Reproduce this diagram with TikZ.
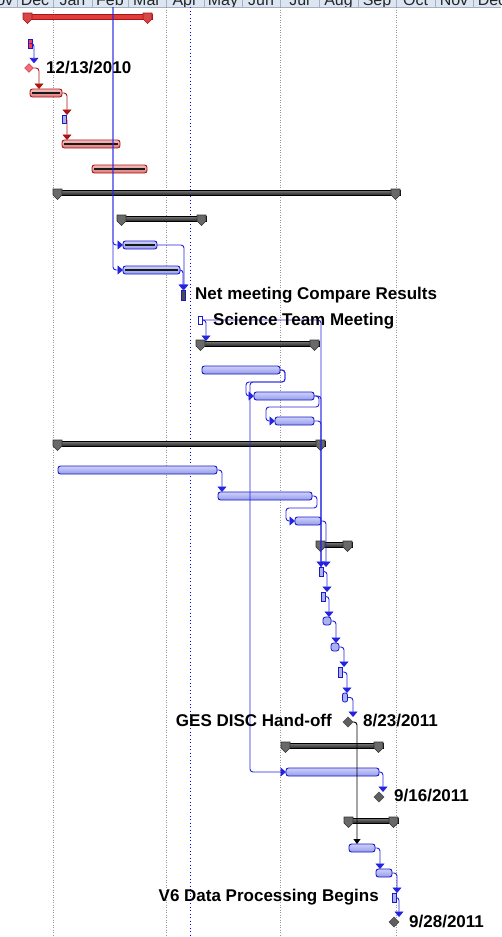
\documentclass[tikz,border=0pt]{standalone}
\usepackage{fontspec}
\setmainfont{Liberation Sans}
\usetikzlibrary{arrows.meta,shapes.geometric}
\definecolor{hdr}{RGB}{220,230,242}
\definecolor{hsep}{RGB}{165,175,190}
\definecolor{gridc}{RGB}{150,150,150}
\definecolor{cblue}{RGB}{35,35,225}
\definecolor{bblue}{RGB}{25,25,200}
\definecolor{bfill}{RGB}{172,178,240}
\definecolor{btop}{RGB}{205,208,250}
\definecolor{bbot}{RGB}{150,156,232}
\definecolor{rline}{RGB}{170,20,20}
\definecolor{rfill}{RGB}{235,150,150}
\definecolor{rtop}{RGB}{245,190,190}
\definecolor{rbot}{RGB}{220,120,120}
\definecolor{capfill}{RGB}{105,105,105}
\definecolor{redsum}{RGB}{225,60,60}
\definecolor{redcap}{RGB}{215,70,70}
\definecolor{dgray}{RGB}{95,95,95}
\tikzset{
 bconn/.style={draw=cblue, line width=0.9pt, rounded corners=3pt},
 rconn/.style={draw=rline, line width=0.9pt, rounded corners=3pt},
 kconn/.style={draw=black, line width=0.9pt, rounded corners=3pt},
 arr/.style={-{Triangle[width=9pt,length=5.5pt]}},
 tbar/.style={draw=bblue, top color=btop, bottom color=bbot, rounded corners=2.5pt, line width=0.9pt, inner sep=0pt, minimum height=8pt, anchor=west, outer sep=0pt},
 rbar/.style={tbar, draw=rline, top color=rtop, bottom color=rbot},
 smalltask/.style={draw=bblue, fill=bfill, line width=0.8pt, inner sep=0pt, minimum width=4pt, minimum height=9pt, outer sep=0pt},
 prog/.style={line width=2.6pt, black!90},
 mile/.style={diamond, draw=black!70, fill=dgray, inner sep=0pt, minimum width=10pt, minimum height=10pt, outer sep=0pt},
 lbl/.style={font=\bfseries\fontsize{17}{20}\selectfont, inner sep=0pt, text=black},
 mon/.style={font=\fontsize{16}{18}\selectfont, inner sep=0pt, anchor=base, text=black!85},
 gridline/.style={draw=gridc, line width=0.8pt, dash pattern=on 1pt off 1.5pt},
 sumk/.style={draw=black, top color=black!50, bottom color=black!85, line width=0.6pt},
 capk/.style={draw=black!80, fill=capfill, line width=0.6pt},
 sumr/.style={draw=rline, fill=redsum, line width=0.6pt},
 capr/.style={draw=rline, fill=redcap, line width=0.6pt},
}
% name, x1, x2, ytop, k/r
\newcommand\sumbar[5]{%
 \node[sum#5, inner sep=0pt, outer sep=0pt, minimum height=5pt, minimum width={#3-#2}, anchor=north west] (#1) at (#2,#4) {};
 \filldraw[cap#5] (#2,#4-1) -- (#2+9,#4-1) -- (#2+9,#4+5) -- (#2+4.5,#4+9.5) -- (#2,#4+5) -- cycle;
 \filldraw[cap#5] (#3-9,#4-1) -- (#3,#4-1) -- (#3,#4+5) -- (#3-4.5,#4+9.5) -- (#3-9,#4+5) -- cycle;
}
\begin{document}
\begin{tikzpicture}[x=1pt,y=-1pt]
\useasboundingbox (0,0) rectangle (501,937);
\fill[white] (0,0) rectangle (501,937);
% header
\begin{scope}
\clip (0,0) rectangle (501,7);
\fill[hdr] (0,0) rectangle (501,7);
\foreach \m/\x [count=\i] in {Nov/-1, Dec/35, Jan/72.5, Feb/110, Mar/147, Apr/185, May/223, Jun/261, Jul/299.5, Aug/338.5, Sep/377, Oct/415.5, Nov/454, Dec/492}
  \node[mon] (h\i) at (\x,5) {\m};
\end{scope}
\foreach \x in {17,53,92,128,166,204,242,280,319,358,396,435,473}
  \draw[hsep, line width=0.8pt] (\x,0) -- (\x,7);
\draw[hsep, line width=0.6pt] (0,7) -- (501,7);
% grid
\foreach \x in {53,166,280,396}
  \draw[gridline] (\x,7) -- (\x,937);
\draw[draw=blue, line width=0.9pt, dash pattern=on 1.2pt off 2.3pt] (190,7) -- (190,937);
\coordinate (src1) at (113,7);

% summaries
\sumbar{r1}{23}{152}{14}{r}
\sumbar{s8}{53}{400}{190}{k}
\sumbar{s9}{117}{206}{216}{k}
\sumbar{s14}{196}{319}{341}{k}
\sumbar{s18}{53}{325}{441}{k}
\sumbar{s22}{316}{352}{542}{k}
\sumbar{s30}{281}{383}{743}{k}
\sumbar{s33}{344}{398}{818}{k}

% tasks
\node[smalltask, fill=red!75] (t2) at (30,43.5) {};
\node[diamond, draw={rgb,255:red,200;green,40;blue,60}, fill={rgb,255:red,240;green,110;blue,120}, inner sep=0pt, minimum width=9pt, minimum height=9pt] (d3) at (29,68) {};
\node[rbar, minimum width=32pt] (b4) at (30,93) {};
\node[smalltask, minimum height=8pt] (t5) at (64,119) {};
\node[rbar, minimum width=58pt] (b6) at (62,144) {};
\node[rbar, minimum width=55pt] (b7) at (92,169) {};
\node[tbar, minimum width=34pt] (b10) at (123,245) {};
\node[tbar, minimum width=57pt] (b11) at (123,270) {};
\node[smalltask, fill=black!70, minimum height=10pt] (t12) at (183,295) {};
\node[smalltask, fill=white, minimum height=8pt] (t13) at (200,320) {};
\node[tbar, minimum width=78pt] (b15) at (202,370) {};
\node[tbar, minimum width=60pt] (b16) at (254,396) {};
\node[tbar, minimum width=39pt] (b17) at (275,421) {};
\node[tbar, minimum width=159pt] (b19) at (58,470) {};
\node[tbar, minimum width=94pt] (b20) at (218,496) {};
\node[tbar, minimum width=26pt] (b21) at (295,521) {};
\node[smalltask] (t23) at (321,571.5) {};
\node[smalltask] (t24) at (323,596.5) {};
\node[smalltask, minimum width=8pt, minimum height=8pt, rounded corners=2.5pt] (t25) at (327,621) {};
\node[smalltask, minimum width=8pt, minimum height=8pt, rounded corners=2.5pt] (t26) at (335,647) {};
\node[smalltask, minimum height=10pt] (t27) at (340,672) {};
\node[smalltask, minimum width=5pt, rounded corners=2pt] (t28) at (345,697.5) {};
\node[mile] (d29) at (348,722) {};
\node[tbar, minimum width=93pt] (b31) at (286,772) {};
\node[mile] (d32) at (379,797) {};
\node[tbar, minimum width=26pt] (b34) at (349,848) {};
\node[tbar, minimum width=16pt] (b35) at (376,873) {};
\node[smalltask] (t36) at (394,897.5) {};
\node[mile] (d37) at (394,922) {};

% progress lines
\foreach \b in {b4,b6,b7,b10,b11}
  \draw[prog] ([xshift=2pt]\b.west) -- ([xshift=-2pt]\b.east);

% connectors
\draw[bconn,arr] (t2.east) -| ([xshift=5pt]d3.north);
\draw[rconn,arr] (d3.east) -| ([xshift=9pt]b4.north west);
\draw[rconn,arr] (b4.east) -| ([xshift=3pt]t5.north);
\draw[rconn,arr,rounded corners=1pt] (t5.east) -| ([xshift=5pt]b6.north west);
\draw[bconn,arr] (src1) |- (b10.west);
\draw[bconn,arr] (src1) |- (b11.west);
\draw[bconn,arr] (b10.east) -| ([xshift=1pt]t12.north);
\draw[bconn,arr] (b11.east) -| (t12.north);
\draw[bconn,arr] (t13.east) -| ([xshift=10pt]s14.north west);
\draw[bconn,arr] (t13.east) -| (t23.north);
\draw[bconn,arr] (b15.east) -- ++(5,0) -- ++(0,12) -| ([xshift=-8pt]b16.west) -- (b16.west);
\draw[bconn,arr] (b15.east) -- ++(5,0) -- ++(0,12) -| ([xshift=-36pt]b31.west) -- (b31.west);
\draw[bconn,arr] (b16.east) -- ++(5,0) -- ++(0,11) -| ([xshift=-9pt]b17.west) -- (b17.west);
\draw[bconn] (b16.east) -| (t23.north);
\draw[bconn] (b17.east) -| (t23.north);
\draw[bconn,arr] (b19.east) -| ([xshift=4pt]b20.north west);
\draw[bconn,arr] (b20.east) -- ++(5,0) -- ++(0,12) -| ([xshift=-9pt]b21.west) -- (b21.west);
\draw[bconn,arr] (b21.east) -| ([xshift=5pt]t23.north);
\draw[bconn,arr] (t23.east) -| ([xshift=4pt]t24.north);
\draw[bconn,arr] (t24.east) -| ([xshift=2pt]t25.north);
\draw[bconn,arr] (t25.east) -| ([xshift=1pt]t26.north);
\draw[bconn,arr] (t26.east) -| ([xshift=4pt]t27.north);
\draw[bconn,arr] (t27.east) -| ([xshift=2pt]t28.north);
\draw[bconn,arr] (t28.east) -| ([xshift=5pt]d29.north);
\draw[kconn,-{Triangle[width=7pt,length=5pt]}] (d29.east) -| ([xshift=8pt]b34.north west);
\draw[bconn,arr] (b31.east) -| ([xshift=4pt]d32.north);
\draw[bconn,arr] (b34.east) -| ([xshift=4pt]b35.north west);
\draw[bconn,arr] (b35.east) -| ([xshift=3pt]t36.north);
\draw[bconn,arr] (t36.east) -| ([xshift=5pt]d37.north);

% labels
\node[lbl, anchor=base west] (l1) at (46,73) {12/13/2010};
\node[lbl, anchor=base west] (l2) at (195,299) {Net meeting Compare Results};
\node[lbl, anchor=base west] (l3) at (213,325) {Science Team Meeting};
\node[lbl, anchor=base east] (l4) at (332,726) {GES DISC Hand-off};
\node[lbl, anchor=base west] (l5) at (363,726) {8/23/2011};
\node[lbl, anchor=base west] (l6) at (394,801) {9/16/2011};
\node[lbl, anchor=base east] (l7) at (379,901) {V6 Data Processing Begins};
\node[lbl, anchor=base west] (l8) at (409,927) {9/28/2011};
\end{tikzpicture}
\end{document}
